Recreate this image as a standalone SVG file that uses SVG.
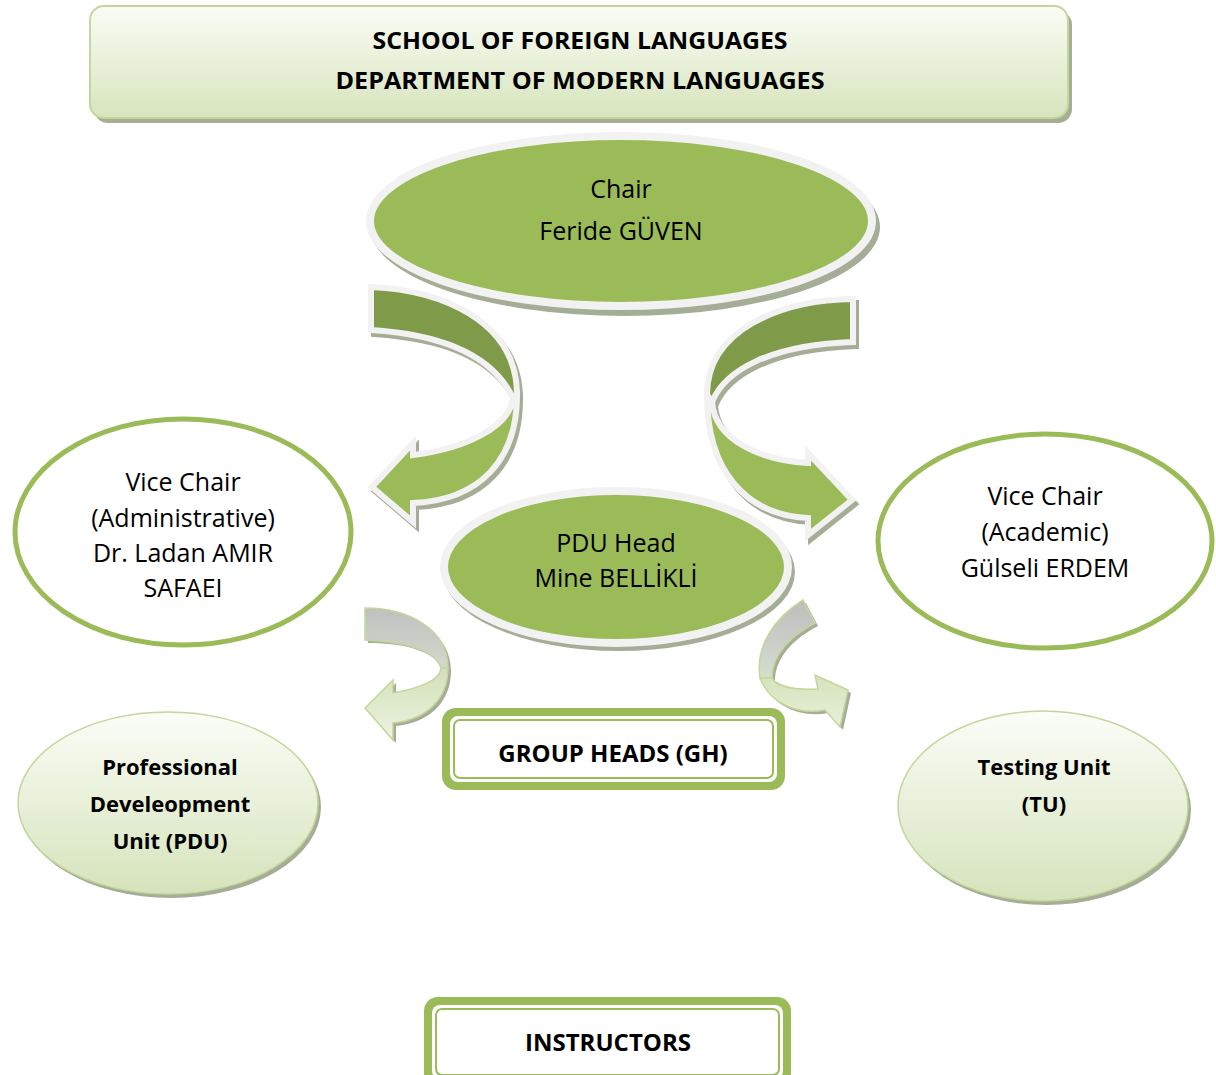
<svg xmlns="http://www.w3.org/2000/svg" width="1216" height="1075" viewBox="0 0 1216 1075">
<style>
.t{font-family:"Open Sans","Liberation Sans",sans-serif;font-size:25px;fill:#000;text-anchor:middle}
.b{font-family:"Open Sans","Liberation Sans",sans-serif;font-weight:bold;fill:#000;text-anchor:middle}
.sh{fill:#a6ad96;stroke:#a6ad96;stroke-width:6;stroke-linejoin:miter}
.dk{fill:#7f9a48;stroke:#f2f2f2;stroke-width:6;stroke-linejoin:miter}
.lt{fill:#9bbb59;stroke:#f2f2f2;stroke-width:6;stroke-linejoin:miter}
.ssh{fill:#a6ad96}
.sm{fill:url(#sg);stroke:#c3d69b;stroke-width:1.5}
.box{fill:#9bbb59}
.boxin{fill:#fff}
.boxln{fill:none;stroke:#9bbb59;stroke-width:2}
</style>
<defs>
<linearGradient id="tg" x1="0" y1="0" x2="0" y2="1">
<stop offset="0" stop-color="#fafcf5"/>
<stop offset="1" stop-color="#d7e4bd"/>
</linearGradient>
<linearGradient id="eg" x1="0" y1="0" x2="0" y2="1">
<stop offset="0" stop-color="#fbfdf7"/>
<stop offset="1" stop-color="#d5e3bb"/>
</linearGradient>
<linearGradient id="sg" gradientUnits="userSpaceOnUse" x1="0" y1="600" x2="0" y2="740">
<stop offset="0" stop-color="#bdbdbd"/>
<stop offset="0.45" stop-color="#d2d6cc"/>
<stop offset="0.6" stop-color="#d8e5c0"/>
<stop offset="1" stop-color="#edf3e2"/>
</linearGradient>
</defs>
<rect width="1216" height="1075" fill="#fff"/>

<g id="title">
<rect x="94" y="11" width="978" height="112" rx="14" fill="#a6ae95"/>
<rect x="90" y="6" width="978" height="112" rx="14" fill="url(#tg)" stroke="#c3d69b" stroke-width="2"/>
<text class="b" x="580" y="49" font-size="23" textLength="415" lengthAdjust="spacingAndGlyphs">SCHOOL OF FOREIGN LANGUAGES</text>
<text class="b" x="580" y="89" font-size="23" textLength="489" lengthAdjust="spacingAndGlyphs">DEPARTMENT OF MODERN LANGUAGES</text>
</g>

<g id="connectors">
<g id="arrow-left">
<path class="sh" transform="translate(3,4)" d="M371,287 C440,290 517,320 517,395 L513,398 C495,360 450,335 371,330 Z"/>
<path class="sh" transform="translate(3,4)" d="M513,398 L517,395 C517,460 480,500 413,503 L413,522 L372,487 L413,443 L413,455 C470,448 510,425 513,398 Z"/>
<path class="dk" d="M371,287 C440,290 517,320 517,395 L513,398 C495,360 450,335 371,330 Z"/>
<path class="lt" d="M513,398 L517,395 C517,460 480,500 413,503 L413,522 L372,487 L413,443 L413,455 C470,448 510,425 513,398 Z"/>
</g>
<g id="arrow-right">
<path class="sh" transform="translate(3,4)" d="M853,299 C780,300 707,330 707,395 L712,402 C725,370 770,345 853,342 Z"/>
<path class="sh" transform="translate(3,4)" d="M707,395 L712,402 C715,440 760,460 808,463 L808,453 L852,500 L808,535 L808,518 C745,515 707,470 707,395 Z"/>
<path class="dk" d="M853,299 C780,300 707,330 707,395 L712,402 C725,370 770,345 853,342 Z"/>
<path class="lt" d="M707,395 L712,402 C715,440 760,460 808,463 L808,453 L852,500 L808,535 L808,518 C745,515 707,470 707,395 Z"/>
</g>
<g id="arrow-small-left">
<path class="ssh" transform="translate(3,3)" d="M365,608 C410,608 448,630 448,668 C448,700 425,720 393,723 L393,740 L365,708 L393,680 L393,693 C420,688 440,680 441,668 C435,650 405,640 365,640 Z"/>
<path class="sm" d="M365,608 C410,608 448,630 448,668 L441,668 C435,650 405,642 365,640 Z"/>
<path class="sm" d="M441,668 L448,668 C448,700 425,720 393,723 L393,740 L365,708 L393,680 L393,693 C420,688 440,680 441,668 Z"/>
</g>
<g id="arrow-small-right">
<path class="ssh" transform="translate(3,3)" d="M803,600 L815,623 C790,636 772,655 772,678 C778,688 795,690 818,689 L815,675 L848,690 L840,727 L825,710 C800,715 770,705 760,678 C755,645 775,618 803,600 Z"/>
<path class="sm" d="M803,600 C775,618 755,645 760,678 L772,678 C772,655 790,636 815,623 Z"/>
<path class="sm" d="M760,678 L772,678 C778,688 795,690 818,689 L815,675 L848,690 L840,727 L825,710 C800,715 770,705 760,678 Z"/>
</g>
</g>

<g id="chair">
<ellipse cx="625" cy="227" rx="255" ry="89" fill="#a6ad96"/>
<ellipse cx="621" cy="221" rx="251" ry="85" fill="#9bbb59" stroke="#f2f2f2" stroke-width="8"/>
<text class="t" x="621" y="198">Chair</text>
<text class="t" x="621" y="240">Feride GÜVEN</text>
</g>

<g id="pdu-head">
<ellipse cx="619" cy="572" rx="176" ry="79" fill="#a6ad96"/>
<ellipse cx="616" cy="567" rx="172" ry="76" fill="#9bbb59" stroke="#f2f2f2" stroke-width="8"/>
<text class="t" x="616" y="552">PDU Head</text>
<text class="t" x="616" y="587">Mine BELLİKLİ</text>
</g>

<g id="vice-admin">
<ellipse cx="183" cy="532" rx="168" ry="113" fill="#fff" stroke="#9bbb59" stroke-width="5"/>
<text class="t" x="183" y="491">Vice Chair</text>
<text class="t" x="183" y="527">(Administrative)</text>
<text class="t" x="183" y="562">Dr. Ladan AMIR</text>
<text class="t" x="183" y="597">SAFAEI</text>
</g>

<g id="vice-academic">
<ellipse cx="1045" cy="541" rx="167" ry="107" fill="#fff" stroke="#9bbb59" stroke-width="5"/>
<text class="t" x="1045" y="505">Vice Chair</text>
<text class="t" x="1045" y="541">(Academic)</text>
<text class="t" x="1045" y="577">Gülseli ERDEM</text>
</g>

<g id="pdu">
<ellipse cx="171" cy="807" rx="150" ry="91" fill="#a6ad96"/>
<ellipse cx="168" cy="803" rx="150" ry="91" fill="url(#eg)" stroke="#c3d69b" stroke-width="1.5"/>
<text class="b" x="170" y="775" font-size="22">Professional</text>
<text class="b" x="170" y="812" font-size="22">Develeopment</text>
<text class="b" x="170" y="849" font-size="22">Unit (PDU)</text>
</g>

<g id="tu">
<ellipse cx="1046" cy="810" rx="145" ry="95" fill="#a6ad96"/>
<ellipse cx="1043" cy="806" rx="145" ry="95" fill="url(#eg)" stroke="#c3d69b" stroke-width="1.5"/>
<text class="b" x="1044" y="775" font-size="22">Testing Unit</text>
<text class="b" x="1044" y="812" font-size="22">(TU)</text>
</g>

<g id="group-heads">
<rect class="box" x="442" y="708" width="343" height="82" rx="14"/>
<rect class="boxin" x="450" y="716" width="327" height="66" rx="8"/>
<rect class="boxln" x="454" y="720" width="319" height="58" rx="6"/>
<text class="b" x="613" y="762" font-size="24">GROUP HEADS (GH)</text>
</g>

<g id="instructors">
<rect class="box" x="424" y="997" width="367" height="90" rx="14"/>
<rect class="boxin" x="432" y="1005" width="351" height="74" rx="8"/>
<rect class="boxln" x="436" y="1009" width="343" height="66" rx="6"/>
<text class="b" x="608" y="1051" font-size="24">INSTRUCTORS</text>
</g>
</svg>
